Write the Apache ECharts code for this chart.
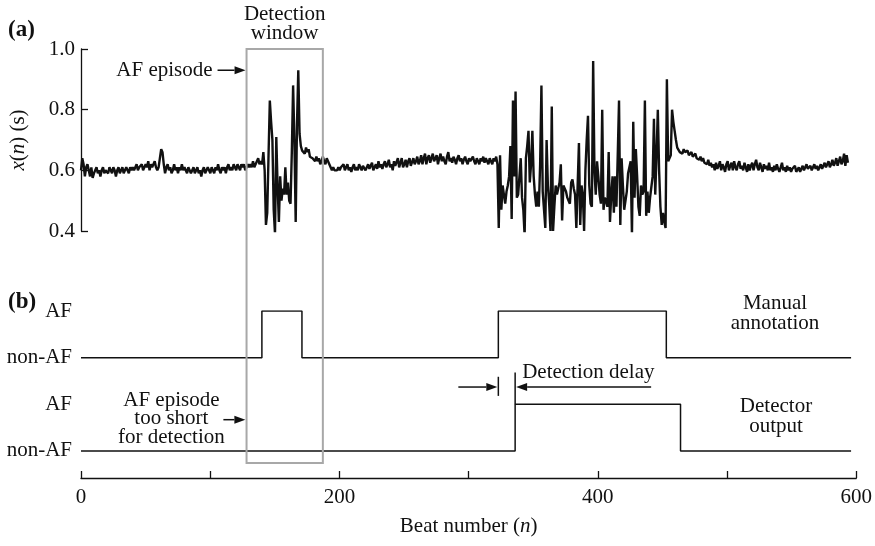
<!DOCTYPE html>
<html><head><meta charset="utf-8">
<script src="https://cdn.jsdelivr.net/npm/echarts@6/dist/echarts.min.js"></script>
<style>html,body{margin:0;padding:0;background:#fff}#c{width:875px;height:546px}</style>
</head><body><div id="c"></div>
<script>
// RR intervals x(n) in seconds, one value per beat (beat 0 .. 593)
const rr = [
0.60,0.64,0.62,0.58,0.61,0.62,0.60,0.58,0.61,0.575,0.59,0.60,0.61,0.59,0.60,0.58,0.60,0.61,0.59,0.60,
0.60,0.59,0.61,0.60,0.59,0.61,0.60,0.58,0.60,0.61,0.59,0.60,0.61,0.59,0.60,0.61,0.60,0.59,0.61,0.60,
0.61,0.60,0.61,0.62,0.60,0.61,0.61,0.62,0.60,0.61,0.62,0.61,0.63,0.60,0.62,0.61,0.62,0.63,0.61,0.60,
0.61,0.64,0.67,0.66,0.62,0.59,0.61,0.62,0.60,0.61,0.59,0.60,0.62,0.60,0.61,0.59,0.61,0.60,0.62,0.60,
0.61,0.60,0.59,0.61,0.60,0.59,0.60,0.61,0.59,0.60,0.61,0.59,0.60,0.58,0.60,0.61,0.59,0.60,0.61,0.60,
0.59,0.61,0.60,0.59,0.61,0.60,0.62,0.60,0.59,0.61,0.60,0.61,0.59,0.61,0.62,0.60,0.61,0.60,0.62,0.61,
0.60,0.62,0.61,0.60,0.62,0.61,0.62,0.60,0.61,0.62,0.61,0.62,0.61,0.63,0.61,0.62,0.62,0.64,0.62,0.63,
0.62,0.66,0.60,0.42,0.46,0.65,0.83,0.76,0.70,0.47,0.39,0.71,0.55,0.43,0.58,0.50,0.54,0.52,0.61,0.52,
0.56,0.50,0.49,0.66,0.88,0.70,0.43,0.75,0.93,0.72,0.68,0.665,0.67,0.655,0.675,0.66,0.67,0.645,0.65,0.64,
0.64,0.63,0.645,0.63,0.64,0.62,0.63,0.645,0.63,0.62,0.64,0.63,0.62,0.61,0.60,0.61,0.60,0.595,0.60,0.61,
0.60,0.61,0.605,0.62,0.60,0.61,0.62,0.60,0.61,0.595,0.61,0.62,0.60,0.61,0.60,0.62,0.61,0.60,0.615,0.62,
0.60,0.61,0.62,0.605,0.61,0.625,0.60,0.61,0.62,0.605,0.63,0.61,0.62,0.605,0.62,0.63,0.61,0.62,0.635,0.61,
0.62,0.60,0.63,0.615,0.62,0.64,0.61,0.625,0.64,0.61,0.62,0.635,0.61,0.63,0.64,0.615,0.62,0.64,0.62,0.63,
0.645,0.62,0.63,0.65,0.62,0.64,0.655,0.62,0.64,0.65,0.625,0.64,0.655,0.63,0.64,0.65,0.62,0.64,0.655,0.63,
0.645,0.63,0.62,0.645,0.66,0.63,0.64,0.625,0.645,0.635,0.62,0.64,0.65,0.63,0.64,0.62,0.635,0.645,0.63,0.62,
0.64,0.63,0.625,0.645,0.63,0.62,0.64,0.635,0.62,0.64,0.63,0.645,0.625,0.64,0.63,0.62,0.64,0.635,0.62,0.64,
0.63,0.645,0.62,0.41,0.65,0.47,0.55,0.52,0.49,0.53,0.55,0.58,0.68,0.44,0.83,0.58,0.86,0.51,0.52,0.58,
0.64,0.51,0.47,0.385,0.64,0.68,0.73,0.56,0.62,0.73,0.58,0.52,0.48,0.53,0.48,0.62,0.88,0.53,0.47,0.41,
0.70,0.55,0.49,0.40,0.81,0.40,0.48,0.55,0.52,0.54,0.56,0.62,0.435,0.55,0.54,0.53,0.51,0.50,0.49,0.56,
0.57,0.54,0.52,0.41,0.55,0.69,0.42,0.55,0.52,0.40,0.60,0.70,0.78,0.55,0.49,0.48,0.96,0.60,0.52,0.63,
0.58,0.52,0.49,0.80,0.47,0.51,0.50,0.48,0.66,0.43,0.52,0.58,0.46,0.58,0.48,0.65,0.83,0.42,0.64,0.55,
0.47,0.47,0.53,0.59,0.61,0.63,0.385,0.76,0.51,0.67,0.58,0.48,0.45,0.55,0.52,0.53,0.83,0.45,0.53,0.46,
0.51,0.545,0.58,0.77,0.52,0.65,0.80,0.60,0.48,0.42,0.46,0.43,0.41,0.90,0.63,0.64,0.65,0.80,0.76,0.73,
0.70,0.675,0.67,0.66,0.665,0.655,0.67,0.66,0.655,0.665,0.65,0.655,0.66,0.645,0.65,0.655,0.64,0.645,0.635,0.645,
0.63,0.64,0.625,0.63,0.62,0.635,0.615,0.625,0.61,0.62,0.60,0.625,0.605,0.615,0.63,0.60,0.62,0.61,0.595,0.62,
0.63,0.60,0.615,0.625,0.60,0.63,0.61,0.60,0.62,0.63,0.605,0.615,0.60,0.625,0.61,0.595,0.62,0.60,0.615,0.625,
0.60,0.62,0.635,0.61,0.60,0.625,0.61,0.595,0.62,0.605,0.615,0.60,0.625,0.60,0.61,0.595,0.615,0.60,0.62,0.605,
0.595,0.61,0.625,0.60,0.61,0.595,0.615,0.60,0.61,0.595,0.605,0.60,0.615,0.595,0.60,0.61,0.595,0.605,0.615,0.60,
0.61,0.62,0.605,0.60,0.615,0.60,0.61,0.62,0.605,0.615,0.60,0.61,0.62,0.605,0.615,0.625,0.61,0.62,0.63,0.61,
0.62,0.635,0.615,0.625,0.64,0.615,0.62,0.645,0.62,0.63,0.655,0.615,0.65,0.625
];
const xTickLabels = [0, 200, 400, 600];
// Manual annotation: beat where state starts, 1 = AF, 0 = non-AF
const manualBeats = [0, 140, 171, 323, 453, 596];
const manualAF    = [0, 1, 0, 1, 0, 0];
// Detector output
const detectorBeats = [0, 336, 464, 596];
const detectorAF    = [0, 1, 0, 0];
// Detection window (beats)
const detectionWindow = [128, 187];
const stateLabels = ['non-AF', 'AF', 'non-AF', 'AF'];

const FONT = '"Liberation Serif", "Times New Roman", serif';
const ink = '#111';
const FS = 21;
const chart = echarts.init(document.getElementById('c'));

const MANUAL_OFFSET = 2;
chart.setOption({
  animation: false,
  textStyle: {fontFamily: FONT, color: ink},
  grid: [
    {left: 81, top: 49, width: 776, height: 182},
    {left: 81, top: 311, width: 776, height: 167}
  ],
  xAxis: [
    {gridIndex: 0, type: 'value', min: 0, max: 600, show: false},
    {gridIndex: 1, type: 'value', min: 0, max: 600, interval: 100, position: 'bottom',
      axisLine: {show: true, onZero: false, lineStyle: {color: ink, width: 1.3}},
      axisTick: {show: true, inside: true, length: 7, lineStyle: {color: ink, width: 1.3}},
      axisLabel: {fontSize: FS, color: ink, margin: 9, fontFamily: FONT,
        formatter: v => xTickLabels.includes(v) ? String(v) : ''},
      splitLine: {show: false},
      name: 'Beat number ({i|n})', nameLocation: 'middle', nameGap: 38,
      nameTextStyle: {fontSize: FS, color: ink, fontFamily: FONT,
        rich: {i: {fontStyle: 'italic', fontSize: FS, fontFamily: FONT, color: ink}}}
    }
  ],
  yAxis: [
    {gridIndex: 0, type: 'value', min: 0.4, max: 1.0, interval: 0.2,
      axisLine: {show: true, onZero: false, lineStyle: {color: ink, width: 1.3}},
      axisTick: {show: true, inside: true, length: 7, lineStyle: {color: ink, width: 1.3}},
      axisLabel: {fontSize: FS, color: ink, margin: 6, fontFamily: FONT, formatter: v => v.toFixed(1)},
      splitLine: {show: false},
      name: '{i|x}({i|n}) (s)', nameLocation: 'middle', nameGap: 52, nameRotate: 90,
      nameTextStyle: {fontSize: FS, color: ink, fontFamily: FONT,
        rich: {i: {fontStyle: 'italic', fontSize: FS, fontFamily: FONT, color: ink}}}
    },
    {gridIndex: 1, type: 'value', min: -0.58, max: 3,
      axisLine: {show: false}, axisTick: {show: false}, splitLine: {show: false},
      axisLabel: {fontSize: FS, color: ink, margin: 9, fontFamily: FONT,
        customValues: [0, 1, 2, 3], formatter: v => stateLabels[Math.round(v)]}
    }
  ],
  series: [
    {type: 'line', xAxisIndex: 0, yAxisIndex: 0, showSymbol: false, symbol: 'none',
      data: rr.map((v, i) => [i, v]), lineStyle: {color: ink, width: 2.4}, z: 3},
    {type: 'line', xAxisIndex: 1, yAxisIndex: 1, step: 'end', showSymbol: false, symbol: 'none',
      data: manualBeats.map((b, i) => [b, manualAF[i] + MANUAL_OFFSET]), lineStyle: {color: ink, width: 1.5}},
    {type: 'line', xAxisIndex: 1, yAxisIndex: 1, step: 'end', showSymbol: false, symbol: 'none',
      data: detectorBeats.map((b, i) => [b, detectorAF[i]]), lineStyle: {color: ink, width: 1.5}}
  ]
});

const pA = (x, y) => chart.convertToPixel({xAxisIndex: 0, yAxisIndex: 0}, [x, y]);
const pB = (x, y) => chart.convertToPixel({xAxisIndex: 1, yAxisIndex: 1}, [x, y]);

function arrow(x1, y1, x2, y2) {
  const a = Math.atan2(y2 - y1, x2 - x1), L = 11, W = 4;
  const bx = x2 - L * Math.cos(a), by = y2 - L * Math.sin(a);
  const nx = -Math.sin(a) * W, ny = Math.cos(a) * W;
  return [
    {type: 'line', shape: {x1, y1, x2: bx, y2: by}, style: {stroke: ink, lineWidth: 1.5}},
    {type: 'polygon', shape: {points: [[x2, y2], [bx + nx, by + ny], [bx - nx, by - ny]]}, style: {fill: ink}}
  ];
}
function txt(text, x, y, align, extra) {
  return {type: 'text', x, y, style: Object.assign({text, fontSize: FS, fontFamily: FONT, fill: ink,
    align: align, verticalAlign: 'middle', lineHeight: 20}, extra || {})};
}

const wl = pA(detectionWindow[0], 1.0), wr = pA(detectionWindow[1], 1.0);
const wb = pB(detectionWindow[0], -0.26);
const g = [];
g.push({type: 'rect', shape: {x: wl[0], y: wl[1], width: wr[0] - wl[0], height: wb[1] - wl[1]},
  style: {fill: 'none', stroke: '#a8a8a8', lineWidth: 2}, z: 10});
g.push(txt('Detection\nwindow', (wl[0] + wr[0]) / 2, 24, 'center', {lineHeight: 19}));
g.push(txt('(a)', 8, 30, 'left', {fontWeight: 'bold', fontSize: 23}));
g.push(txt('(b)', 8, 302, 'left', {fontWeight: 'bold', fontSize: 23}));
// AF episode arrow
const ae = pA(detectionWindow[0], 0.93);
g.push(...arrow(ae[0] - 29, ae[1], ae[0] - 1, ae[1]));
g.push(txt('AF episode', ae[0] - 34, ae[1], 'right'));
// too short arrow
const ts = pB(detectionWindow[0], 0.67);
g.push(...arrow(ts[0] - 23, ts[1], ts[0] - 1, ts[1]));
g.push(txt('AF episode\ntoo short\nfor detection', ts[0] - 75, ts[1] - 1, 'center', {lineHeight: 18.5}));
// labels on right
g.push(txt('Manual\nannotation', 775, 313, 'center'));
g.push(txt('Detector\noutput', 776, 416, 'center'));
// detection delay
const onsetM = manualBeats[3], onsetD = detectorBeats[1];
const v1 = pB(onsetM, 1.18), v2 = pB(onsetM, 1.59);
g.push({type: 'line', shape: {x1: v1[0], y1: v1[1], x2: v2[0], y2: v2[1]}, style: {stroke: ink, lineWidth: 1.5}});
const d1 = pB(onsetD, 1), d2 = pB(onsetD, 1.68);
g.push({type: 'line', shape: {x1: d1[0], y1: d1[1], x2: d2[0], y2: d2[1]}, style: {stroke: ink, lineWidth: 1.5}});
const ay = pB(onsetM, 1.37)[1];
g.push(...arrow(v1[0] - 40, ay, v1[0] - 1, ay));
g.push(...arrow(d1[0] + 136, ay, d1[0] + 1, ay));
g.push(txt('Detection delay', d1[0] + 7, ay - 15, 'left'));

chart.setOption({graphic: g});
</script>
</body></html>
